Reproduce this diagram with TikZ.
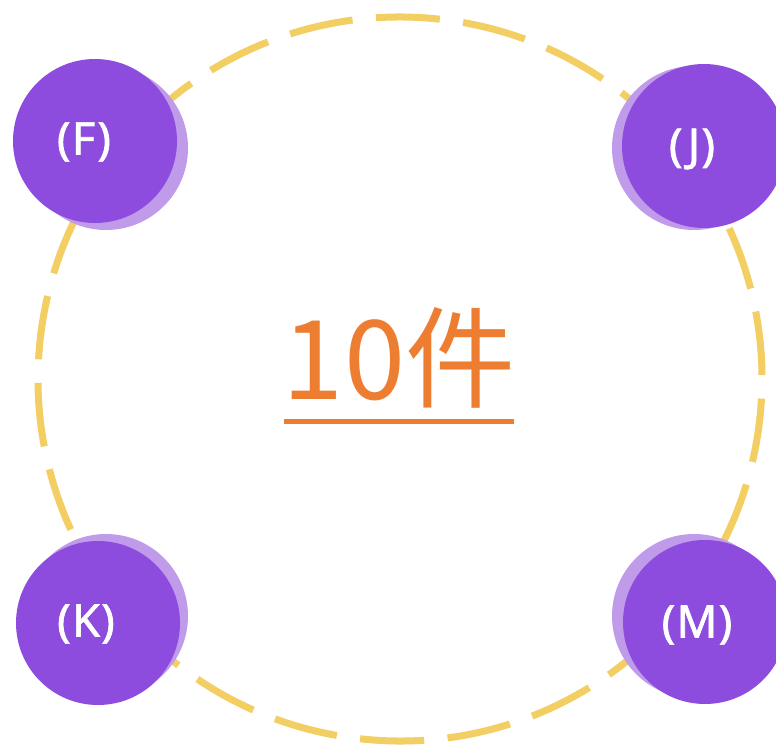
\documentclass[tikz,border=0pt]{standalone}
\usepackage{fontspec}
\setmainfont{Noto Sans}
\newfontfamily\lblfont{Noto Sans}[FakeBold=1.6,LetterSpace=3]
\newfontfamily\cjkfont{Noto Sans CJK SC}
\definecolor{ringcol}{HTML}{F2CE63}
\definecolor{mainpurple}{HTML}{8D4CDE}
\definecolor{lightpurple}{HTML}{BF9BEA}
\definecolor{numorange}{HTML}{ED7D31}
\begin{document}
\begin{tikzpicture}[x=1pt,y=-1pt,
  ring/.style={draw=ringcol,line width=7pt,dash pattern=on 64pt off 23.48pt},
  shadowdisc/.style={circle,fill=lightpurple,minimum size=164pt,inner sep=0pt},
  maindisc/.style={circle,fill=mainpurple,minimum size=164pt,inner sep=0pt},
  lbl/.style={text=white,font=\lblfont\fontsize{45}{50}\selectfont,inner sep=0pt}]
\useasboundingbox (0,0) rectangle (776,746);
\coordinate (c) at (400,379);
\draw[ring] (c) ++(96.3:362) arc[start angle=96.3,end angle=-263.7,radius=362];
% F
\node[shadowdisc] (fs) at (106,148) {};
\node[maindisc] (f) at (95,141) {};
\node[lbl] (fl) at (84,142) {(F)};
% J
\node[shadowdisc] (js) at (694,148) {};
\node[maindisc] (j) at (704,146) {};
\node[lbl] (jl) at (692,149) {(J)};
% K
\node[shadowdisc] (ks) at (106,616) {};
\node[maindisc] (k) at (98,623) {};
\node[lbl] (kl) at (86,624) {(K)};
% M
\node[shadowdisc] (ms) at (694,616) {};
\node[maindisc] (m) at (705,622) {};
\node[lbl] (ml) at (697,625) {(M)};
% center
\node[text=numorange,font=\cjkfont\fontsize{110}{120}\selectfont,inner sep=0pt] (t) at (399,358) {10件};
\draw[numorange,line width=5pt] (284,421) -- (514,421);
\end{tikzpicture}
\end{document}
